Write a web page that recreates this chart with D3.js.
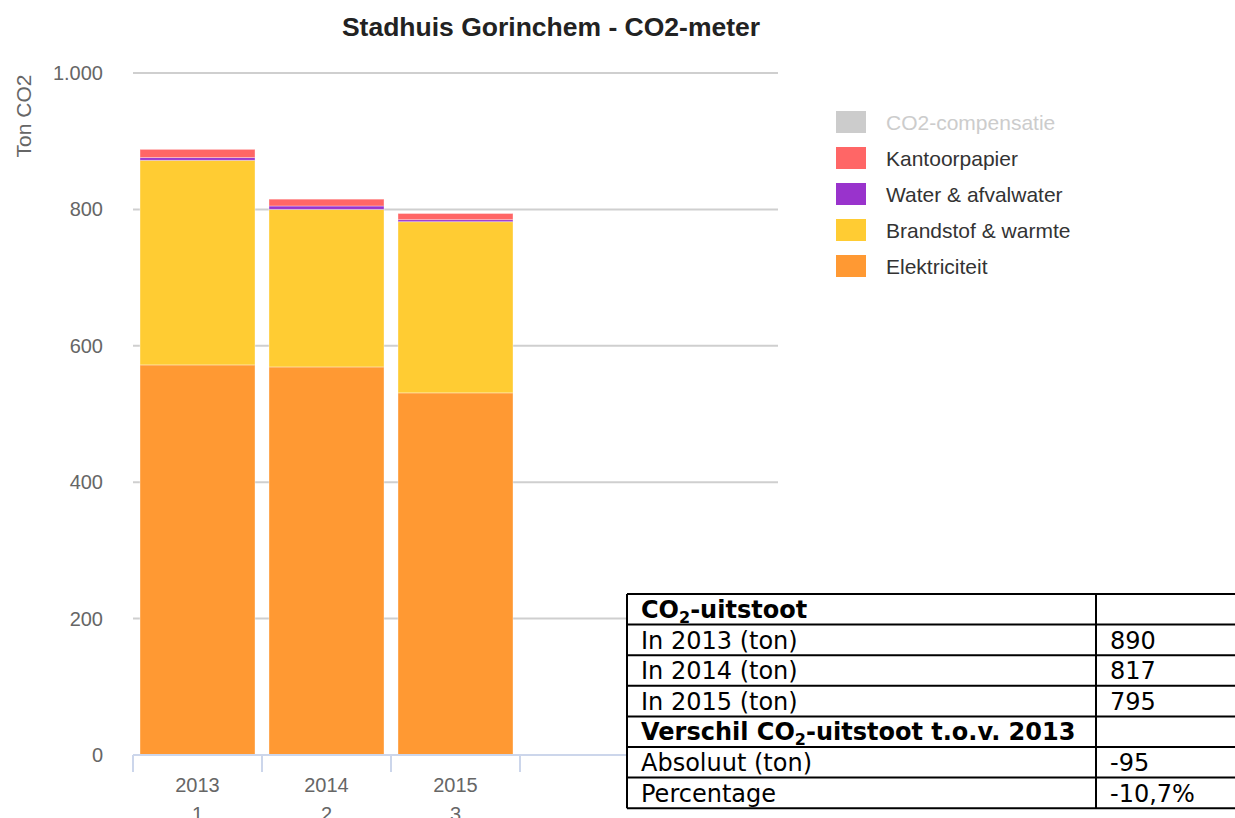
<!DOCTYPE html>
<html>
<head>
<meta charset="utf-8">
<script src="https://cdn.jsdelivr.net/npm/d3@7"></script>
<style>
  body { margin: 0; background: #fff; }
  svg { display: block; }
</style>
</head>
<body>
<svg id="chart" width="1235" height="818"></svg>
<script>
// data
const years = ['2013', '2014', '2015'];
const yearIdx = ['1', '2', '3'];
const seriesNames = ['Elektriciteit', 'Brandstof & warmte', 'Water & afvalwater', 'Kantoorpapier', 'CO2-compensatie'];
const seriesColors = ['#ff9933', '#ffcc33', '#9933cc', '#ff6666', '#cccccc'];
const elektriciteit = [572, 569, 531];
const brandstof = [300, 231, 251];
const water = [4, 5, 3];
const papier = [12, 10, 9];
const compensatie = [0, 0, 0];
const yTicks = [0, 200, 400, 600, 800, 1000];
const tableRows = [
    { label: ['CO', '2', '-uitstoot'], value: '', bold: true },
    { label: ['In 2013 (ton)'], value: '890' },
    { label: ['In 2014 (ton)'], value: '817' },
    { label: ['In 2015 (ton)'], value: '795' },
    { label: ['Verschil CO', '2', '-uitstoot t.o.v. 2013'], value: '', bold: true },
    { label: ['Absoluut (ton)'], value: '-95' },
    { label: ['Percentage'], value: '-10,7%' }
];

const svg = d3.select('#chart');
const FONT = '"Liberation Sans", Arial, sans-serif';
const TFONT = '"DejaVu Sans", Verdana, sans-serif';
const SLOTS = 5;

const x = d3.scaleBand()
    .domain(d3.range(SLOTS))
    .range([133, 778])
    .paddingInner(0.1085)
    .paddingOuter(0.0543);

const y = d3.scaleLinear()
    .domain([0, 1000])
    .range([755, 73]);

// title
svg.append('text')
    .attr('x', 551)
    .attr('y', 36)
    .attr('text-anchor', 'middle')
    .attr('font-family', FONT)
    .attr('font-weight', 'bold')
    .attr('font-size', 26.5)
    .attr('fill', '#222')
    .text('Stadhuis Gorinchem - CO2-meter');

// grid lines
svg.append('g')
    .selectAll('line')
    .data(yTicks.filter(d => d > 0))
    .join('line')
    .attr('x1', 133)
    .attr('x2', 778)
    .attr('y1', d => y(d))
    .attr('y2', d => y(d))
    .attr('stroke', '#cfcfcf')
    .attr('stroke-width', 2);

// y labels
svg.append('g')
    .selectAll('text')
    .data(yTicks)
    .join('text')
    .attr('x', 103)
    .attr('y', d => y(d) + 7)
    .attr('text-anchor', 'end')
    .attr('font-family', FONT)
    .attr('font-size', 20)
    .attr('fill', '#666')
    .text(d => d3.format(',')(d).replace(/,/g, '.'));

svg.append('text')
    .attr('transform', 'translate(31,116) rotate(-90)')
    .attr('text-anchor', 'middle')
    .attr('font-family', FONT)
    .attr('font-size', 21)
    .attr('fill', '#666')
    .text('Ton CO2');

// stacked bars
const rows = years.map((yr, i) => ({
    i: i,
    'Elektriciteit': elektriciteit[i],
    'Brandstof & warmte': brandstof[i],
    'Water & afvalwater': water[i],
    'Kantoorpapier': papier[i],
    'CO2-compensatie': compensatie[i]
}));
const stack = d3.stack().keys(seriesNames)(rows);

svg.append('g')
    .selectAll('g')
    .data(stack)
    .join('g')
    .attr('fill', (d, k) => seriesColors[k])
    .selectAll('rect')
    .data(d => d)
    .join('rect')
    .attr('x', d => x(d.data.i))
    .attr('width', x.bandwidth())
    .attr('y', d => y(d[1]))
    .attr('height', d => y(d[0]) - y(d[1]))
    .attr('stroke', '#fff')
    .attr('stroke-opacity', 0.35)
    .attr('stroke-width', 1);

// x axis
const x0 = x.range()[0];
svg.append('line')
    .attr('x1', x0).attr('x2', x.range()[1])
    .attr('y1', 755).attr('y2', 755)
    .attr('stroke', '#ccd6eb').attr('stroke-width', 2);
svg.append('g')
    .selectAll('line')
    .data(d3.range(SLOTS + 1))
    .join('line')
    .attr('x1', d => x0 + d * x.step())
    .attr('x2', d => x0 + d * x.step())
    .attr('y1', 755)
    .attr('y2', 772)
    .attr('stroke', '#ccd6eb')
    .attr('stroke-width', 2);

const xl = svg.append('g')
    .selectAll('text')
    .data(years)
    .join('text')
    .attr('text-anchor', 'middle')
    .attr('font-family', FONT)
    .attr('font-size', 20)
    .attr('fill', '#666');
xl.append('tspan').attr('x', (d, i) => x(i) + x.bandwidth() / 2).attr('y', 792).text(d => d);
xl.append('tspan').attr('x', (d, i) => x(i) + x.bandwidth() / 2).attr('y', 821).text((d, i) => yearIdx[i]);

// legend
const legend = svg.append('g')
    .selectAll('g')
    .data(seriesNames.slice().reverse())
    .join('g')
    .attr('transform', (d, i) => `translate(836,${111 + i * 36})`);
legend.append('rect')
    .attr('width', 30)
    .attr('height', 22)
    .attr('fill', d => seriesColors[seriesNames.indexOf(d)]);
legend.append('text')
    .attr('x', 50)
    .attr('y', 19)
    .attr('font-family', FONT)
    .attr('font-size', 21)
    .attr('fill', d => d === 'CO2-compensatie' ? '#cccccc' : '#333')
    .text(d => d);

// table
const T = { left: 627, right: 1237, split: 1096, top: 594, rowH: 30.6 };
const tbl = svg.append('g');
tbl.append('rect')
    .attr('x', T.left).attr('y', T.top)
    .attr('width', T.right - T.left).attr('height', T.rowH * tableRows.length)
    .attr('fill', '#fff');
tbl.selectAll('line.h')
    .data(d3.range(tableRows.length + 1))
    .join('line')
    .attr('x1', T.left).attr('x2', T.right)
    .attr('y1', d => T.top + d * T.rowH)
    .attr('y2', d => T.top + d * T.rowH)
    .attr('stroke', '#000').attr('stroke-width', 2);
[T.left, T.split].forEach(v => {
    tbl.append('line')
        .attr('x1', v).attr('x2', v)
        .attr('y1', T.top).attr('y2', T.top + T.rowH * tableRows.length)
        .attr('stroke', '#000').attr('stroke-width', 2);
});
tableRows.forEach((r, i) => {
    const by = T.top + i * T.rowH + 24;
    const t = tbl.append('text')
        .attr('x', 641).attr('y', by)
        .attr('font-family', TFONT)
        .attr('font-size', 24)
        .attr('font-weight', r.bold ? 'bold' : 'normal')
        .attr('fill', '#000');
    r.label.forEach((part, k) => {
        if (r.label.length > 1 && k === 1) {
            t.append('tspan').attr('dy', 5).attr('font-size', 16).text(part);
        } else if (r.label.length > 1 && k === 2) {
            t.append('tspan').attr('dy', -5).text(part);
        } else {
            t.append('tspan').text(part);
        }
    });
    tbl.append('text')
        .attr('x', 1110).attr('y', by)
        .attr('font-family', TFONT)
        .attr('font-size', 24)
        .attr('fill', '#000')
        .text(r.value);
});
</script>
</body>
</html>
